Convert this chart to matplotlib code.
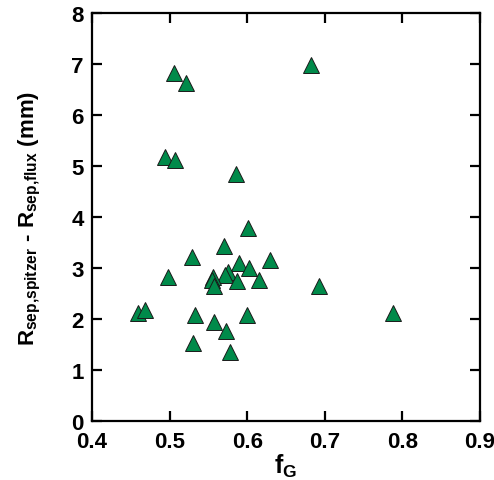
import matplotlib
matplotlib.use("Agg")
import matplotlib.pyplot as plt
from matplotlib import font_manager

names = {f.name for f in font_manager.fontManager.ttflist}
fam = 'Liberation Sans Narrow' if 'Liberation Sans Narrow' in names else 'Liberation Sans'
plt.rcParams['font.family'] = [fam, 'DejaVu Sans']
plt.rcParams['font.weight'] = 'bold'
plt.rcParams['mathtext.default'] = 'regular'

f_G = [0.506, 0.5215, 0.682, 0.4937, 0.5065, 0.586,
       0.6015, 0.5705, 0.529, 0.629, 0.5894, 0.6027,
       0.5757, 0.5714, 0.5563, 0.555, 0.5568, 0.5873, 0.6156,
       0.4975, 0.692, 0.4597, 0.4687, 0.5323, 0.5993, 0.7875,
       0.5568, 0.5727, 0.5306, 0.5774]
dR = [6.82, 6.63, 6.99, 5.18, 5.12, 4.85,
      3.79, 3.44, 3.22, 3.16, 3.09, 3.00,
      2.92, 2.86, 2.82, 2.76, 2.65, 2.75, 2.76,
      2.82, 2.65, 2.12, 2.18, 2.08, 2.08, 2.11,
      1.95, 1.76, 1.53, 1.36]

xticks = [0.4, 0.5, 0.6, 0.7, 0.8, 0.9]
yticks = [0, 1, 2, 3, 4, 5, 6, 7, 8]

fig = plt.figure(figsize=(4.94, 4.81), dpi=100)
ax = fig.add_axes([92/494, 59/481, 388/494, 408/481])
ax.plot(f_G, dR, linestyle='none', marker='^', markersize=11,
        markerfacecolor='#008A4A', markeredgecolor='#1a1a1a', markeredgewidth=0.7)
ax.set_xlim(0.4, 0.9)
ax.set_ylim(0, 8)
ax.set_xticks(xticks)
ax.set_yticks(yticks)
ax.set_xticklabels([f'{v:.1f}' for v in xticks])
ax.set_yticklabels([str(v) for v in yticks])
ax.tick_params(direction='in', length=7, width=1.6, top=True, right=True,
               labelsize=16)
ax.tick_params(axis='x', pad=7)
ax.tick_params(axis='y', pad=6)
for lbl in ax.get_xticklabels() + ax.get_yticklabels():
    lbl.set_fontweight('bold')
for s in ax.spines.values():
    s.set_linewidth(1.6)
ax.set_xlabel(r'f$_G$', fontsize=18, fontweight='bold', labelpad=0)
ax.set_ylabel(r'R$_{sep{,}spitzer}$ - R$_{sep{,}flux}$ (mm)', fontsize=16,
              fontweight='bold', labelpad=20)
fig.savefig('out.png', dpi=100)
